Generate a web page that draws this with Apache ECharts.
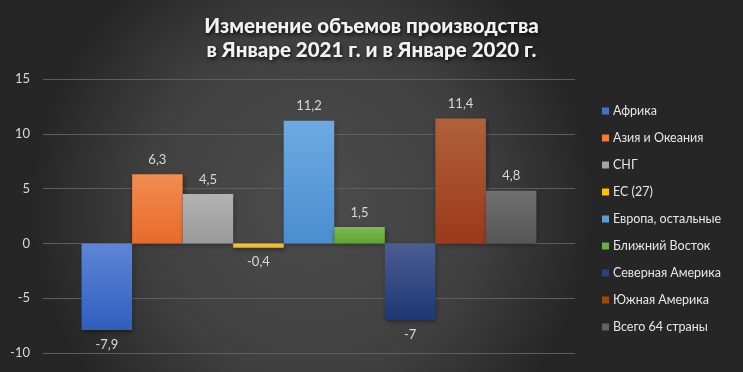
<!DOCTYPE html>
<html><head><meta charset="utf-8">
<script src="https://cdn.jsdelivr.net/npm/echarts@6/dist/echarts.min.js"></script>
<style>html,body{margin:0;padding:0;background:#333}#c{width:743px;height:372px}</style>
</head><body><div id="c"></div>
<script>
const categories = ['Африка','Азия и Океания','СНГ','ЕС (27)','Европа, остальные','Ближний Восток','Северная Америка','Южная Америка','Всего 64 страны'];
const values = [-7.9, 6.3, 4.5, -0.4, 11.2, 1.5, -7, 11.4, 4.8];
const yTicks = [-10, -5, 0, 5, 10, 15];
const legendColors = ['#4472c4','#ed7d31','#a5a5a5','#ffc000','#5b9bd5','#70ad47','#264478','#9e480e','#636363'];
const topColors = ['#5d86d6','#f28c52','#b3b3b3','#f7c52e','#6eaae2','#7cba52','#4b5d91','#b0613c','#707070'];
const botColors = ['#2f5ebe','#e86a2a','#9a9a9a','#f2b820','#4a8ecf','#5fa335','#1c3875','#9a391b','#555555'];
const titleText = 'Изменение объемов производства\nв Январе 2021 г. и в Январе 2020 г.';

const chart = echarts.init(document.getElementById('c'), null, {renderer:'canvas'});
const series = categories.map((name, i) => ({
  name: name,
  type: 'bar',
  data: [values[i]],
  barGap: '0%',
  barCategoryGap: '14.5%',
  itemStyle: {
    color: new echarts.graphic.LinearGradient(0,0,0,1,[{offset:0,color:topColors[i]},{offset:1,color:botColors[i]}]),
    shadowColor: 'rgba(0,0,0,0.45)', shadowBlur: 5, shadowOffsetX: 1, shadowOffsetY: 2
  },
  label: {
    show: true,
    position: values[i] >= 0 ? 'top' : 'bottom',
    distance: 8,
    color: '#d9d9d9',
    fontFamily: 'Lato',
    fontSize: 13,
    formatter: p => String(p.value).replace('.', ',')
  }
}));

chart.setOption({
  backgroundColor: new echarts.graphic.RadialGradient(0.42,0.55,0.75,[{offset:0,color:'#4c4c4c'},{offset:0.6,color:'#404040'},{offset:1,color:'#262626'}]),
  color: legendColors,
  title: {
    text: titleText,
    left: 'center',
    top: 9,
    textStyle: {
      color: '#f2f2f2', fontFamily: 'Lato', fontWeight: 900, fontSize: 20.5, lineHeight: 24,
      textShadowColor: 'rgba(0,0,0,0.8)', textShadowBlur: 4, textShadowOffsetX: 1, textShadowOffsetY: 2
    }
  },
  legend: {
    orient: 'vertical',
    left: 597,
    top: 99,
    itemWidth: 7,
    itemHeight: 7,
    itemGap: 13,
    icon: 'rect',
    data: categories.map((n,i)=>({name:n, itemStyle:{color:legendColors[i]}})),
    textStyle: {color:'#e6e6e6', fontFamily:'Lato', fontSize: 12.5, lineHeight: 14, padding:[0,0,0,-1]}
  },
  grid: {left: 43, right: 168, top: 79, bottom: 19, containLabel: false},
  xAxis: {type: 'category', data: [''], axisLine:{show:false}, axisTick:{show:false}, axisLabel:{show:false}},
  yAxis: {
    type: 'value', min: yTicks[0], max: yTicks[yTicks.length-1], interval: 5,
    axisLine:{show:false}, axisTick:{show:false},
    axisLabel:{color:'#d9d9d9', fontFamily:'Lato', fontSize:13, margin:13},
    splitLine:{lineStyle:{color:'#5e5e5e', width:1}}
  },
  series: series
});
</script></body></html>
